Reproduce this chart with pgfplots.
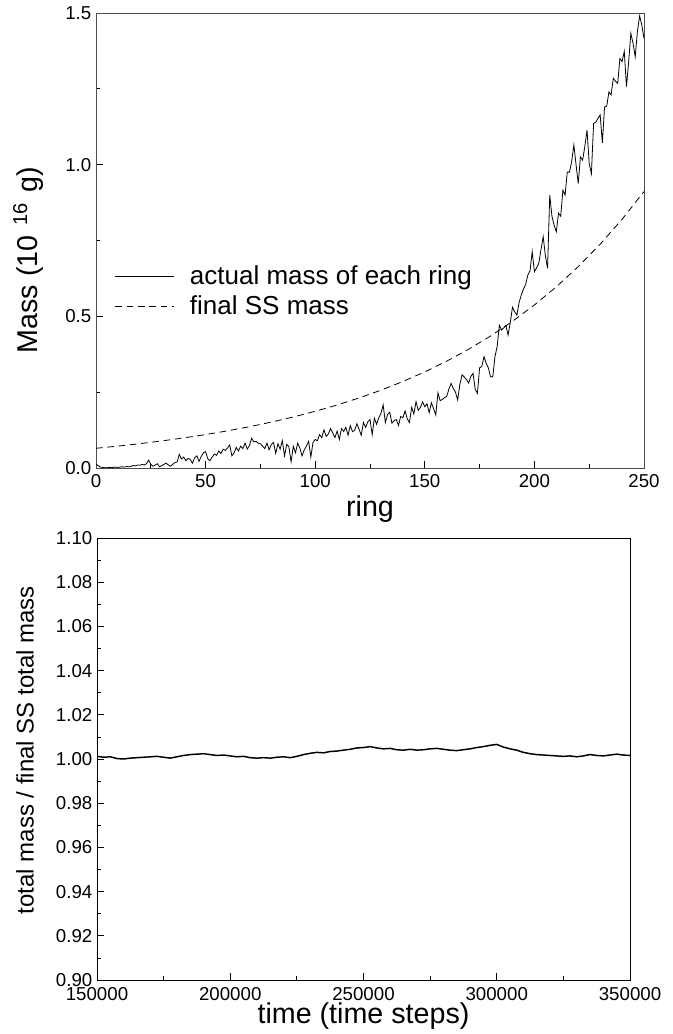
\documentclass[border=0pt]{standalone}
\usepackage{fontspec}
\setmainfont{Liberation Sans}
\usepackage{pgfplots}
\pgfplotsset{compat=1.18}
\begin{document}
\begin{tikzpicture}
\path[use as bounding box] (0pt,0pt) rectangle (504pt,-775.5pt);
% ---------------- top panel ----------------
\begin{axis}[
 at={(72pt,-351pt)}, anchor=south west,
 width=411pt, height=341.25pt, scale only axis,
 xmin=0, xmax=250, ymin=0, ymax=1.5,
 xtick={0,50,100,150,200,250}, ytick={0,0.5,1,1.5},
 minor x tick num=1, minor y tick num=1,
 tick pos=left, tick align=inside,
 major tick length=5pt, minor tick length=3pt,
 axis line style={black!70, line width=0.6pt},
 every tick/.style={black, line width=0.6pt},
 /pgf/number format/assume math mode=true,
 tick label style={font=\fontsize{14}{16}\selectfont},
 yticklabel style={/pgf/number format/.cd, fixed, fixed zerofill, precision=1},
 xticklabel style={yshift=-1pt, /pgf/number format/.cd, fixed, precision=0},
 xlabel={ring},
 ylabel={Mass (10\hspace{0.35em}\textsuperscript{16}\hspace{0.35em}g)},
 xlabel style={font=\fontsize{21.5}{24}\selectfont, at={(rel axis cs:0.5,-0.09)}, anchor=center},
 ylabel style={font=\fontsize{21.5}{24}\selectfont, at={(rel axis cs:-0.124,0.457)}, anchor=center},
 legend style={at={(rel axis cs:0.034,0.388)}, anchor=west, draw=none, fill=none,
   font=\fontsize{19.5}{22}\selectfont, row sep=3pt, inner sep=0pt},
 legend cell align=left,
 legend image code/.code={\draw[#1] (0pt,0pt) -- (44pt,0pt); \path[draw=none] (0pt,0pt) -- (54pt,0pt);},
]
\addplot[black, line width=0.6pt] coordinates {
(0,0.012)(1,0.008)(2,0.003)(3,0.002)(4,0.001)(5,0.001)(6,0.002)(7,0.001)(8,0.002)(9,0.003)
(10,0.002)(11,0.003)(12,0.004)(13,0.003)(14,0.005)(15,0.004)(16,0.006)(17,0.008)(18,0.007)(19,0.010)
(20,0.009)(21,0.012)(22,0.010)(23,0.014)(24,0.026)(25,0.012)(26,0.006)(27,0.010)(28,0.014)(29,0.004)
(30,0.008)(31,0.012)(32,0.016)(33,0.010)(34,0.006)(35,0.012)(36,0.018)(37,0.020)(38,0.045)(39,0.030)
(40,0.036)(41,0.024)(42,0.032)(43,0.028)(44,0.016)(45,0.034)(46,0.040)(47,0.022)(48,0.038)(49,0.050)
(50,0.054)(51,0.030)(52,0.024)(53,0.036)(54,0.046)(55,0.042)(56,0.056)(57,0.048)(58,0.062)(59,0.058)
(60,0.066)(61,0.076)(62,0.040)(63,0.050)(64,0.068)(65,0.056)(66,0.072)(67,0.064)(68,0.082)(69,0.062)
(70,0.074)(71,0.098)(72,0.086)(73,0.088)(74,0.082)(75,0.080)(76,0.072)(77,0.064)(78,0.082)(79,0.060)
(80,0.078)(81,0.084)(82,0.048)(83,0.080)(84,0.062)(85,0.090)(86,0.040)(87,0.078)(88,0.070)(89,0.020)
(90,0.072)(91,0.050)(92,0.082)(93,0.066)(94,0.040)(95,0.060)(96,0.072)(97,0.088)(98,0.036)(99,0.084)
(100,0.094)(101,0.090)(102,0.110)(103,0.100)(104,0.126)(105,0.104)(106,0.112)(107,0.130)(108,0.116)(109,0.100)
(110,0.122)(111,0.094)(112,0.130)(113,0.120)(114,0.134)(115,0.108)(116,0.140)(117,0.120)(118,0.124)(119,0.146)
(120,0.128)(121,0.108)(122,0.150)(123,0.134)(124,0.152)(125,0.160)(126,0.110)(127,0.164)(128,0.144)(129,0.166)
(130,0.180)(131,0.208)(132,0.150)(133,0.176)(134,0.184)(135,0.148)(136,0.156)(137,0.160)(138,0.140)(139,0.170)
(140,0.166)(141,0.188)(142,0.162)(143,0.150)(144,0.200)(145,0.178)(146,0.219)(147,0.190)(148,0.200)(149,0.218)
(150,0.202)(151,0.212)(152,0.182)(153,0.215)(154,0.196)(155,0.175)(156,0.248)(157,0.222)(158,0.226)(159,0.232)
(160,0.236)(161,0.260)(162,0.279)(163,0.262)(164,0.250)(165,0.224)(166,0.276)(167,0.307)(168,0.300)(169,0.292)
(170,0.280)(171,0.302)(172,0.312)(173,0.260)(174,0.246)(175,0.330)(176,0.335)(177,0.367)(178,0.345)(179,0.330)
(180,0.301)(181,0.300)(182,0.367)(183,0.400)(184,0.471)(185,0.455)(186,0.462)(187,0.470)(188,0.438)(189,0.480)
(190,0.530)(191,0.515)(192,0.504)(193,0.545)(194,0.570)(195,0.590)(196,0.605)(197,0.636)(198,0.650)(199,0.713)
(200,0.647)(201,0.660)(202,0.675)(203,0.720)(204,0.763)(205,0.700)(206,0.658)(207,0.900)(208,0.830)(209,0.800)
(210,0.779)(211,0.840)(212,0.830)(213,0.916)(214,0.900)(215,0.976)(216,0.975)(217,1.010)(218,1.065)(219,1.000)
(220,0.938)(221,1.026)(222,1.015)(223,1.060)(224,1.114)(225,1.004)(226,0.970)(227,1.136)(228,1.140)(229,1.153)
(230,1.164)(231,1.072)(232,1.190)(233,1.193)(234,1.240)(235,1.230)(236,1.285)(237,1.275)(238,1.268)(239,1.350)
(240,1.340)(241,1.373)(242,1.257)(243,1.340)(244,1.433)(245,1.400)(246,1.356)(247,1.440)(248,1.490)(249,1.460)
(250,1.416)
};
\addlegendentry{actual mass of each ring}
\addplot[black, line width=0.6pt, dash pattern=on 5pt off 3.5pt] coordinates {
(0,0.0650)(10,0.0722)(20,0.0803)(30,0.0892)(40,0.0992)(50,0.1102)(60,0.1225)(70,0.1361)(80,0.1513)(90,0.1682)
(100,0.1869)(110,0.2077)(120,0.2309)(130,0.2566)(140,0.2852)(150,0.3169)(160,0.3523)(170,0.3915)(180,0.4351)(190,0.4836)
(200,0.5375)(210,0.5973)(220,0.6639)(230,0.7378)(240,0.8200)(250,0.9114)
};
\addlegendentry{final SS mass}
\end{axis}
% ---------------- bottom panel ----------------
\begin{axis}[
 at={(72.75pt,-735pt)}, anchor=south west,
 width=399.75pt, height=331.5pt, scale only axis,
 xmin=150000, xmax=350000, ymin=0.9, ymax=1.1,
 xtick={150000,200000,250000,300000,350000},
 ytick={0.9,0.92,0.94,0.96,0.98,1,1.02,1.04,1.06,1.08,1.1},
 minor x tick num=1, minor y tick num=1,
 scaled x ticks=false, scaled y ticks=false,
 tick pos=left, tick align=inside,
 major tick length=5pt, minor tick length=3pt,
 axis line style={black, line width=0.6pt},
 every tick/.style={black, line width=0.6pt},
 /pgf/number format/assume math mode=true,
 tick label style={font=\fontsize{14}{16}\selectfont},
 yticklabel style={/pgf/number format/.cd, fixed, fixed zerofill, precision=2},
 xticklabel style={inner sep=0.5pt, yshift=-5.2pt, /pgf/number format/.cd, fixed, 1000 sep={}},
 xlabel={time (time steps)},
 ylabel={total mass / final SS total mass},
 xlabel style={font=\fontsize{21.5}{24}\selectfont, inner sep=0pt, at={(rel axis cs:0.5,-0.0815)}, anchor=center},
 ylabel style={font=\fontsize{18}{20}\selectfont, at={(rel axis cs:-0.135,0.52)}, anchor=center},
]
\addplot[black, line width=1.1pt] coordinates {
(150000,1.0012)(152500,1.0008)(155000,1.0010)(157500,1.0002)(160000,1.0000)(162500,1.0004)(165000,1.0006)(167500,1.0008)
(170000,1.0010)(172500,1.0012)(175000,1.0008)(177500,1.0004)(180000,1.0010)(182500,1.0016)(185000,1.0020)(187500,1.0022)
(190000,1.0024)(192500,1.0020)(195000,1.0016)(197500,1.0018)(200000,1.0014)(202500,1.0010)(205000,1.0012)(207500,1.0006)
(210000,1.0004)(212500,1.0006)(215000,1.0004)(217500,1.0008)(220000,1.0010)(222500,1.0006)(225000,1.0012)(227500,1.0020)
(230000,1.0026)(232500,1.0030)(235000,1.0028)(237500,1.0034)(240000,1.0036)(242500,1.0040)(245000,1.0044)(247500,1.0050)
(250000,1.0052)(252500,1.0056)(255000,1.0050)(257500,1.0046)(260000,1.0048)(262500,1.0042)(265000,1.0040)(267500,1.0044)
(270000,1.0040)(272500,1.0042)(275000,1.0046)(277500,1.0048)(280000,1.0044)(282500,1.0040)(285000,1.0038)(287500,1.0042)
(290000,1.0046)(292500,1.0052)(295000,1.0056)(297500,1.0062)(300000,1.0066)(302500,1.0054)(305000,1.0046)(307500,1.0040)
(310000,1.0030)(312500,1.0024)(315000,1.0020)(317500,1.0018)(320000,1.0016)(322500,1.0014)(325000,1.0012)(327500,1.0014)
(330000,1.0010)(332500,1.0014)(335000,1.0020)(337500,1.0016)(340000,1.0014)(342500,1.0018)(345000,1.0022)(347500,1.0018)
(350000,1.0016)
};
\end{axis}
\end{tikzpicture}
\end{document}
